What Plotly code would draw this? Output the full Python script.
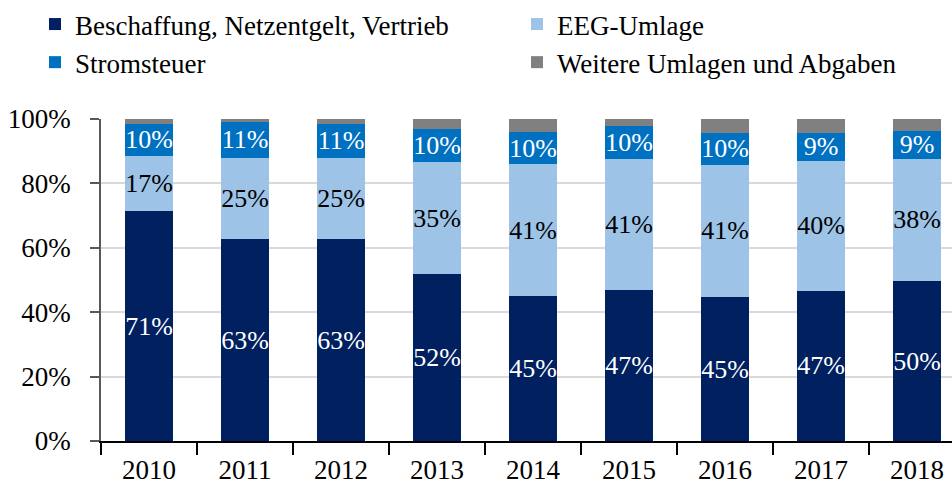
import plotly.graph_objects as go

# Shares of the household electricity price, in percent
years = ["2010", "2011", "2012", "2013", "2014", "2015", "2016", "2017", "2018"]
beschaffung = [71.4, 62.7, 62.6, 51.8, 45.1, 47.0, 44.7, 46.6, 49.6]
eeg_umlage = [17.1, 25.3, 25.2, 34.8, 40.8, 40.7, 41.1, 40.4, 38.1]
stromsteuer = [10.0, 11.0, 10.8, 10.4, 10.0, 10.1, 9.8, 8.8, 8.6]
weitere = [1.5, 1.0, 1.4, 3.0, 4.1, 2.2, 4.4, 4.2, 3.7]

FONT = "Liberation Serif, Times New Roman, serif"
FS = 27

W, H = 952, 488
ML, MR, MT, MB = 101, 0, 118.5, 47
PW = W - ML - MR


def px_x(p):
    return (p - ML) / PW


series = [
    ("Beschaffung, Netzentgelt, Vertrieb", beschaffung, "#002060", "white", True, "legend"),
    ("EEG-Umlage", eeg_umlage, "#9DC3E6", "black", True, "legend2"),
    ("Stromsteuer", stromsteuer, "#0070C0", "white", True, "legend"),
    ("Weitere Umlagen und Abgaben", weitere, "#808080", "white", False, "legend2"),
]

fig = go.Figure()
for name, vals, color, tcolor, labelled, lg in series:
    fig.add_trace(go.Bar(
        x=years, y=vals, name=name, legend=lg,
        marker=dict(color=color, line=dict(width=0)),
        texttemplate="%{y:.0f}%" if labelled else None,
        textposition="inside" if labelled else "none",
        insidetextanchor="middle",
        textangle=0,
        textfont=dict(family=FONT, size=FS - 1, color=tcolor),
        hoverinfo="skip",
    ))


def legend_box(xpx):
    return dict(
        orientation="v", traceorder="normal",
        x=px_x(xpx), xref="paper", xanchor="left",
        y=1 + 4 / H, yref="container", yanchor="top",
        font=dict(family=FONT, size=FS, color="black"),
        bgcolor="rgba(0,0,0,0)", itemclick=False, tracegroupgap=0,
    )


fig.update_layout(
    width=W, height=H,
    margin=dict(l=ML, r=MR, t=MT, b=MB, pad=0, autoexpand=False),
    paper_bgcolor="white", plot_bgcolor="white",
    barmode="stack", bargap=0.5,
    showlegend=True,
    uniformtext=dict(minsize=FS - 1, mode="show"),
    legend=legend_box(35),
    legend2=legend_box(517),
    font=dict(family=FONT, size=FS, color="black"),
    xaxis=dict(
        type="category", range=[-0.5, 8.365],
        showline=True, linecolor="black", linewidth=2,
        ticks="outside", tickson="boundaries", ticklen=12,
        tickcolor="black", tickwidth=1.5,
        ticklabelstandoff=4, automargin=False,
        tickfont=dict(family=FONT, size=FS, color="black"),
        showgrid=False, zeroline=False, fixedrange=True,
    ),
    yaxis=dict(
        range=[0, 100], dtick=20, ticksuffix="%",
        showline=True, linecolor="#595959", linewidth=1.5,
        ticks="outside", ticklen=9, tickcolor="#595959", tickwidth=1.5,
        ticklabelstandoff=14, automargin=False,
        tickfont=dict(family=FONT, size=FS, color="black"),
        showgrid=True, gridcolor="#D9D9D9", gridwidth=1.5,
        zeroline=False, fixedrange=True,
    ),
)

fig.write_html("out.html", config={"displayModeBar": False})
